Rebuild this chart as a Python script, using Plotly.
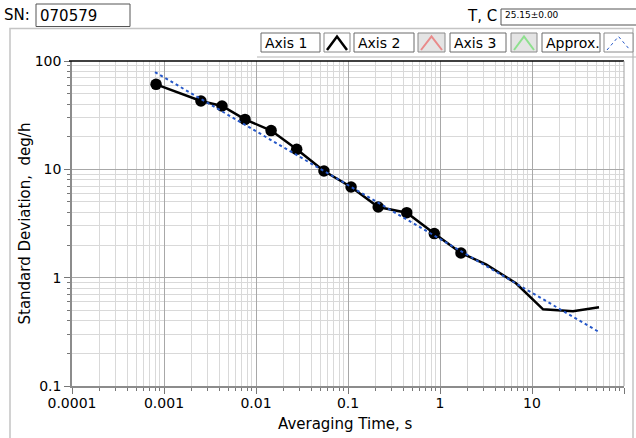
import plotly.graph_objects as go

# ---------------- data ----------------
sn_text = "070579"
temp_label = "T, C"
temp_text = "25.15±0.00"
legend_names = ["Axis 1", "Axis 2", "Axis 3", "Approx."]

tau = [0.00082, 0.00252, 0.00427, 0.0076, 0.0146, 0.0277, 0.0548, 0.108, 0.213,
       0.435, 0.867, 1.69, 3.16, 6.7, 13.2, 27.9, 53.5]
sigma = [60.9, 42.7, 38.4, 28.9, 22.8, 15.3, 9.65, 6.87, 4.49,
         3.98, 2.55, 1.69, 1.33, 0.887, 0.51, 0.489, 0.532]
n_marked = 12

approx_tau = [0.000798, 53.5]
approx_sigma = [79.0, 0.315]

x_tick_vals = [0.0001, 0.001, 0.01, 0.1, 1, 10, 100]
x_tick_text = ["0.0001", "0.001", "0.01", "0.1", "1", "10", "100"]
y_tick_vals = [0.1, 1, 10, 100]
y_tick_text = ["0.1", "1", "10", "100"]

x_title = "Averaging Time, s"
y_title = "Standard Deviation,  deg/h"

# ---------------- layout helpers ----------------
W, H = 636, 438
L, R, T, B = 72, 624, 61, 386
FONT = "DejaVu Sans"


def px(x):
    return (x - L) / (R - L)


def py(y):
    return (B - y) / (B - T)


def minor_vals(vals):
    out = []
    for v in vals[:-1]:
        for k in range(2, 10):
            out.append(v * k)
    return out


fig = go.Figure()

marker_sizes = [11.5] * n_marked + [0] * (len(tau) - n_marked)
fig.add_trace(go.Scatter(
    x=tau, y=sigma, mode="lines+markers", name=legend_names[0],
    line=dict(color="black", width=2.5),
    marker=dict(color="black", size=marker_sizes, opacity=1, line=dict(width=0)),
    showlegend=False,
))
fig.add_trace(go.Scatter(
    x=approx_tau, y=approx_sigma, mode="lines", name=legend_names[3],
    line=dict(color="#2557c8", width=2, dash="dot"),
    showlegend=False,
))

shapes = []
annotations = []

# outer panel border
shapes.append(dict(type="rect", xref="paper", yref="paper",
                   x0=px(10), x1=px(633), y0=py(445), y1=py(28.5),
                   line=dict(color="#c4c4c4", width=1.5), layer="below"))
# legend container bottom line
shapes.append(dict(type="line", xref="paper", yref="paper",
                   x0=px(257), x1=px(640), y0=py(57), y1=py(57),
                   line=dict(color="#b4b4b4", width=1)))
# top black frame line
shapes.append(dict(type="line", xref="paper", yref="paper",
                   x0=px(69), x1=1, y0=1, y1=1,
                   line=dict(color="black", width=1.5)))
# right frame line
shapes.append(dict(type="line", xref="paper", yref="paper",
                   x0=1, x1=1, y0=0, y1=1,
                   line=dict(color="#a0a0a0", width=1)))

# legend boxes
label_boxes = [(261, 320), (354, 414), (450, 506), (542, 600)]
icon_boxes = [(324, 350), (418, 445), (511, 537), (604, 633)]
icon_fills = ["white", "#e4e4e4", "#e4e4e4", "white"]
icon_lines = [dict(color="black", width=2.5),
              dict(color="#e98a8a", width=2),
              dict(color="#8ee08e", width=2),
              dict(color="#2557c8", width=1, dash="dot")]
by0, by1 = 33, 52
for name, (a0, a1), (i0, i1), fill, ln in zip(legend_names, label_boxes, icon_boxes, icon_fills, icon_lines):
    shapes.append(dict(type="rect", xref="paper", yref="paper",
                       x0=px(a0), x1=px(a1), y0=py(by1), y1=py(by0),
                       line=dict(color="#6a6a6a", width=1), fillcolor="white"))
    annotations.append(dict(xref="paper", yref="paper", x=px(a0 + 2), y=py((by0 + by1) / 2 + 0.5),
                            text=name, showarrow=False, xanchor="left", yanchor="middle",
                            font=dict(family=FONT, size=14, color="black")))
    shapes.append(dict(type="rect", xref="paper", yref="paper",
                       x0=px(i0), x1=px(i1), y0=py(by1), y1=py(by0),
                       line=dict(color="#8a8a8a", width=1), fillcolor=fill))
    cx = (i0 + i1) / 2
    path = "M {} {} L {} {} L {} {}".format(px(i0 + 3), py(by1 - 2), px(cx), py(by0 + 3.5),
                                            px(i1 - 3), py(by1 - 2))
    shapes.append(dict(type="path", xref="paper", yref="paper", path=path, line=ln))

# SN label and box
annotations.append(dict(xref="paper", yref="paper", x=px(2), y=py(15), text="SN:",
                        showarrow=False, xanchor="left", yanchor="middle",
                        font=dict(family=FONT, size=15, color="black")))
shapes.append(dict(type="rect", xref="paper", yref="paper",
                   x0=px(36), x1=px(130), y0=py(26.5), y1=py(4),
                   line=dict(color="#555555", width=1), fillcolor="white"))
annotations.append(dict(xref="paper", yref="paper", x=px(38), y=py(15.5), text=sn_text,
                        showarrow=False, xanchor="left", yanchor="middle",
                        font=dict(family=FONT, size=15, color="black")))

# T, C label and box
annotations.append(dict(xref="paper", yref="paper", x=px(499), y=py(16), text=temp_label,
                        showarrow=False, xanchor="right", yanchor="middle",
                        font=dict(family=FONT, size=15, color="black")))
shapes.append(dict(type="rect", xref="paper", yref="paper",
                   x0=px(501), x1=px(645), y0=py(25), y1=py(9),
                   line=dict(color="#555555", width=1), fillcolor="white"))
annotations.append(dict(xref="paper", yref="paper", x=px(503), y=py(15), text=temp_text,
                        showarrow=False, xanchor="left", yanchor="middle",
                        font=dict(family=FONT, size=9, color="black")))

# axis titles
annotations.append(dict(xref="paper", yref="paper", x=px(345), y=py(424), text=x_title,
                        showarrow=False, xanchor="center", yanchor="middle",
                        font=dict(family=FONT, size=15, color="black")))
annotations.append(dict(xref="paper", yref="paper", x=px(24), y=py(223.5), text=y_title,
                        showarrow=False, xanchor="center", yanchor="middle", textangle=-90,
                        font=dict(family=FONT, size=15, color="black")))

axis_common = dict(
    type="log",
    showline=True, linecolor="#8c8c8c", linewidth=1.5,
    showgrid=True, gridcolor="#a8a8a8", gridwidth=1,
    ticks="outside", ticklen=6, tickcolor="#777777", tickwidth=1,
    tickmode="array",
    tickfont=dict(family=FONT, size=14, color="black"),
    zeroline=False,
)

fig.update_layout(
    width=W, height=H,
    margin=dict(l=L, r=W - R, t=T, b=H - B),
    paper_bgcolor="white", plot_bgcolor="white",
    showlegend=False,
    shapes=shapes,
    annotations=annotations,
    xaxis=dict(axis_common, range=[-4, 2], tickvals=x_tick_vals, ticktext=x_tick_text,
               ticklabelstandoff=-3,
               minor=dict(tickmode="array", tickvals=minor_vals(x_tick_vals), ticks="outside",
                          ticklen=3, tickcolor="#777777", showgrid=True,
                          gridcolor="#d9d9d9", gridwidth=1)),
    yaxis=dict(axis_common, range=[-1, 2], tickvals=y_tick_vals, ticktext=y_tick_text,
               minor=dict(tickmode="array", tickvals=minor_vals(y_tick_vals), ticks="outside",
                          ticklen=3, tickcolor="#777777", showgrid=True,
                          gridcolor="#d9d9d9", gridwidth=1)),
)

fig.write_html("out.html", config={"displayModeBar": False},
               post_script="document.body.style.margin='0';document.body.style.padding='0';")
